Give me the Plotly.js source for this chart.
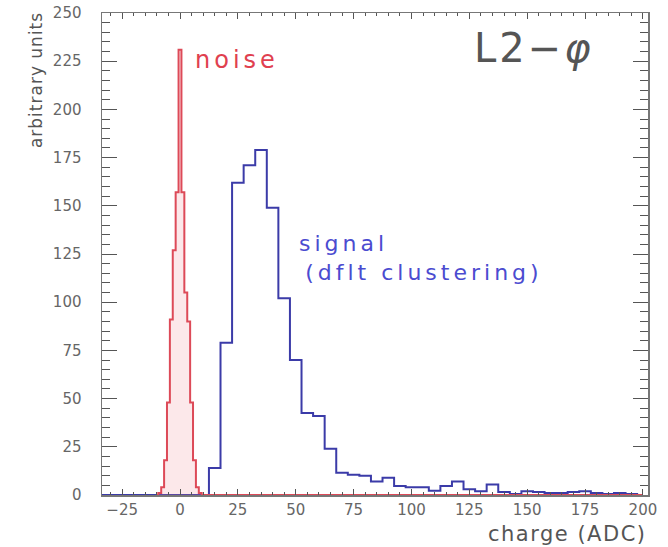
<!DOCTYPE html>
<html>
<head>
<meta charset="utf-8">
<script src="https://cdn.plot.ly/plotly-3.0.1.min.js"></script>
<style>
  html, body { margin: 0; padding: 0; background: #fff; }
  #chart { width: 668px; height: 547px; }
</style>
</head>
<body>
<div id="chart"></div>
<script>
// ---- data ----
// signal histogram (blue), bin centres in ADC, bin width 5
const signalCharge = [-35,-30,-25,-20,-15,-10,-5,0,5,10,15,20,25,30,35,40,45,50,55,60,65,70,75,80,85,90,95,100,105,110,115,120,125,130,135,140,145,150,155,160,165,170,175,180,185,190,195,200];
const signalCounts = [0,0,0,0,0,0,0,0,0,0,14,79,162,171,179,149,102,70,42.5,41,24,11.5,10.5,10,7,9,4.7,4,4,2.2,4.7,7,3,2,5.5,1.5,0.5,2,1.5,1,1,1.5,2,1,0.5,1,0.5,0];

// noise histogram (red), bin centres in ADC, bin width 1.25
const noiseCharge = [-10,-8.75,-7.5,-6.25,-5,-3.75,-2.5,-1.25,0,1.25,2.5,3.75,5,6.25,7.5,8.75,10,200];
const noiseCounts = [0,1,4,18,48,91,127,157,231,157,105,90,48,18,4,1,0,0];

// axis tick labels
const xTickVals = [-25,0,25,50,75,100,125,150,175,200];
const yTickVals = [0,25,50,75,100,125,150,175,200,225,250];

const labelNoise = "noise";
const labelSignal = "signal";
const labelSignal2 = "(dflt clustering)";
const labelTitle = "L2\u2212<i>\u03c6</i>";
const labelX = "charge (ADC)";
const labelY = "arbitrary units";

// ---- traces ----
const signalTrace = {
  type: 'scatter', mode: 'lines',
  x: signalCharge, y: signalCounts,
  line: {shape: 'hvh', color: '#3b3ba8', width: 2},
  hoverinfo: 'skip'
};
const noiseTrace = {
  type: 'scatter', mode: 'lines',
  x: noiseCharge, y: noiseCounts,
  line: {shape: 'hvh', color: '#dd4a58', width: 2},
  fill: 'tozeroy', fillcolor: 'rgba(240,130,140,0.18)',
  hoverinfo: 'skip'
};

const axisCommon = {
  showgrid: false, zeroline: false,
  showline: true, linecolor: '#777', linewidth: 1.5,
  mirror: 'allticks', ticks: 'inside', tickcolor: '#555', tickwidth: 1,
  tickfont: {family: 'DejaVu Sans', size: 15, color: '#666'}
};

const layout = {
  width: 668, height: 547,
  margin: {l: 102, r: 20, t: 13, b: 52},
  paper_bgcolor: '#fff', plot_bgcolor: '#fff',
  showlegend: false,
  font: {family: 'DejaVu Sans'},
  xaxis: Object.assign({}, axisCommon, {
    range: [-33.7, 202.2],
    tickmode: 'array', tickvals: xTickVals,
    ticklen: 6, ticklabelstandoff: 0,
    minor: {tick0: 0, dtick: 5, ticks: 'inside', ticklen: 3, tickcolor: '#555'}
  }),
  yaxis: Object.assign({}, axisCommon, {
    range: [0, 250],
    tickmode: 'array', tickvals: yTickVals,
    ticklen: 15, ticklabelstandoff: 16,
    minor: {tick0: 0, dtick: 5, ticks: 'inside', ticklen: 8, tickcolor: '#555'}
  }),
  annotations: [
    {text: '<span style="letter-spacing:4px">' + labelNoise + '</span>', xref: 'x', yref: 'y', x: 5.6, y: 225.6,
     xanchor: 'left', yanchor: 'middle', showarrow: false,
     font: {family: 'DejaVu Sans', size: 24, color: '#e0404f'}},
    {text: '<span style="letter-spacing:4px">' + labelSignal + '<br>\u200a' + labelSignal2 + '</span>',
     xref: 'x', yref: 'y', x: 50.5, y: 123,
     xanchor: 'left', yanchor: 'middle', align: 'left', showarrow: false,
     font: {family: 'DejaVu Sans', size: 22, color: '#4b4bd0'}},
    {text: '<span style="letter-spacing:3px">' + labelTitle + '</span>', xref: 'x', yref: 'y', x: 126.2, y: 232,
     xanchor: 'left', yanchor: 'middle', showarrow: false,
     font: {family: 'DejaVu Sans', size: 40, color: '#555'}},
    {text: '<span style="letter-spacing:1.5px">' + labelX + '</span>', xref: 'paper', yref: 'paper', x: 0.9945, y: -0.0809,
     xanchor: 'right', yanchor: 'middle', xshift: 4, showarrow: false,
     font: {family: 'DejaVu Sans', size: 21, color: '#555'}},
    {text: '<span style="letter-spacing:1px">' + labelY + '</span>', xref: 'paper', yref: 'paper', x: -0.1209, y: 1.006,
     xanchor: 'center', yanchor: 'top', textangle: -90, showarrow: false,
     font: {family: 'DejaVu Sans', size: 17, color: '#555'}}
  ]
};

Plotly.newPlot('chart', [signalTrace, noiseTrace], layout, {displayModeBar: false, staticPlot: true});
</script>
</body>
</html>
